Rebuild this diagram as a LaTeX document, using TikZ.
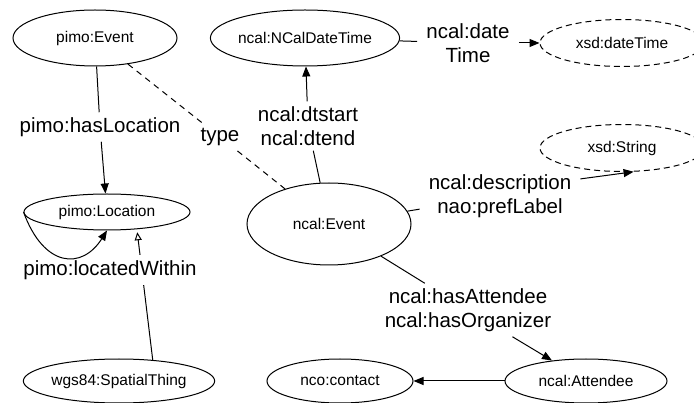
\documentclass[tikz,border=0pt]{standalone}
\usepackage{fontspec}
\setmainfont{Liberation Sans}
\usetikzlibrary{shapes.geometric,arrows.meta}
\tikzset{
  cls/.style={ellipse,draw,line width=1pt,inner sep=0pt,font=\fontsize{15.5}{18}\selectfont},
  lit/.style={cls,dash pattern=on 6pt off 4pt},
  elab/.style={fill=white,inner xsep=9pt,inner ysep=5pt,align=center,font=\fontsize{20.5}{24}\selectfont},
  conn/.style={line width=1pt},
  dconn/.style={conn,dash pattern=on 6pt off 5pt},
  arr/.style={conn,-{Triangle[length=10pt,width=8pt]}},
  sub/.style={conn,-{Triangle[open,length=8pt,width=7pt]}}
}
\begin{document}
\begin{tikzpicture}[x=1pt,y=-1pt]
\useasboundingbox (0,0) rectangle (694,403);
% class nodes
\node[cls,minimum width=164pt,minimum height=56pt] (pimoEvent) at (95,38) {pimo:Event};
\node[cls,minimum width=184pt,minimum height=56pt] (ncalDT) at (305,38) {ncal:NCalDateTime};
\node[lit,minimum width=164pt,minimum height=47pt] (xsdDT) at (622,43) {xsd:dateTime};
\node[lit,minimum width=164pt,minimum height=47pt] (xsdStr) at (622,148) {xsd:String};
\node[cls,minimum width=166pt,minimum height=36pt] (pimoLoc) at (107,212) {pimo:Location};
\node[cls,minimum width=164pt,minimum height=82pt] (ncalEvent) at (329,224) {ncal:Event};
\node[cls,minimum width=188pt,minimum height=44pt] (wgs) at (119,381) {wgs84:SpatialThing};
\node[cls,minimum width=146pt,minimum height=44pt] (contact) at (340,381) {nco:contact};
\node[cls,minimum width=162pt,minimum height=44pt] (attendee) at (586,381) {ncal:Attendee};
% edge labels
\node[elab] (lblLoc) at (100,127) {pimo:hasLocation};
\node[elab] (lblType) at (220,137) {type};
\node[elab] (lblDt) at (308,126) {ncal:dtstart\\ncal:dtend};
\node[elab] (lblDate) at (468,43) {ncal:date\\Time};
\node[elab] (lblDesc) at (500,196) {ncal:description\\nao:prefLabel};
\node[elab] (lblAtt) at (468,310) {ncal:hasAttendee\\ncal:hasOrganizer};
% connectors
\draw[conn] (pimoEvent) -- (lblLoc);
\draw[arr] (lblLoc) -- (pimoLoc);
\draw[dconn] (pimoEvent) -- (lblType);
\draw[dconn] (lblType) -- (ncalEvent);
\draw[conn] (ncalEvent) -- (lblDt);
\draw[arr] (lblDt) -- (ncalDT);
\draw[conn] (ncalDT) -- (lblDate);
\draw[arr] (lblDate) -- (xsdDT);
\draw[conn] (ncalEvent) -- (lblDesc);
\draw[arr] (lblDesc.12) -- (xsdStr.-64);
\draw[conn] (ncalEvent) -- (lblAtt);
\draw[arr] (lblAtt) -- (attendee);
\draw[arr] (attendee) -- (contact);
\draw[sub,shorten >=3pt] (wgs.32) -- (pimoLoc.-30);
\node[elab] (lblWithin) at (110,270) {pimo:locatedWithin};
\draw[arr] (pimoLoc.west) .. controls (44,268) and (82,270) .. (pimoLoc.south);
\end{tikzpicture}
\end{document}
